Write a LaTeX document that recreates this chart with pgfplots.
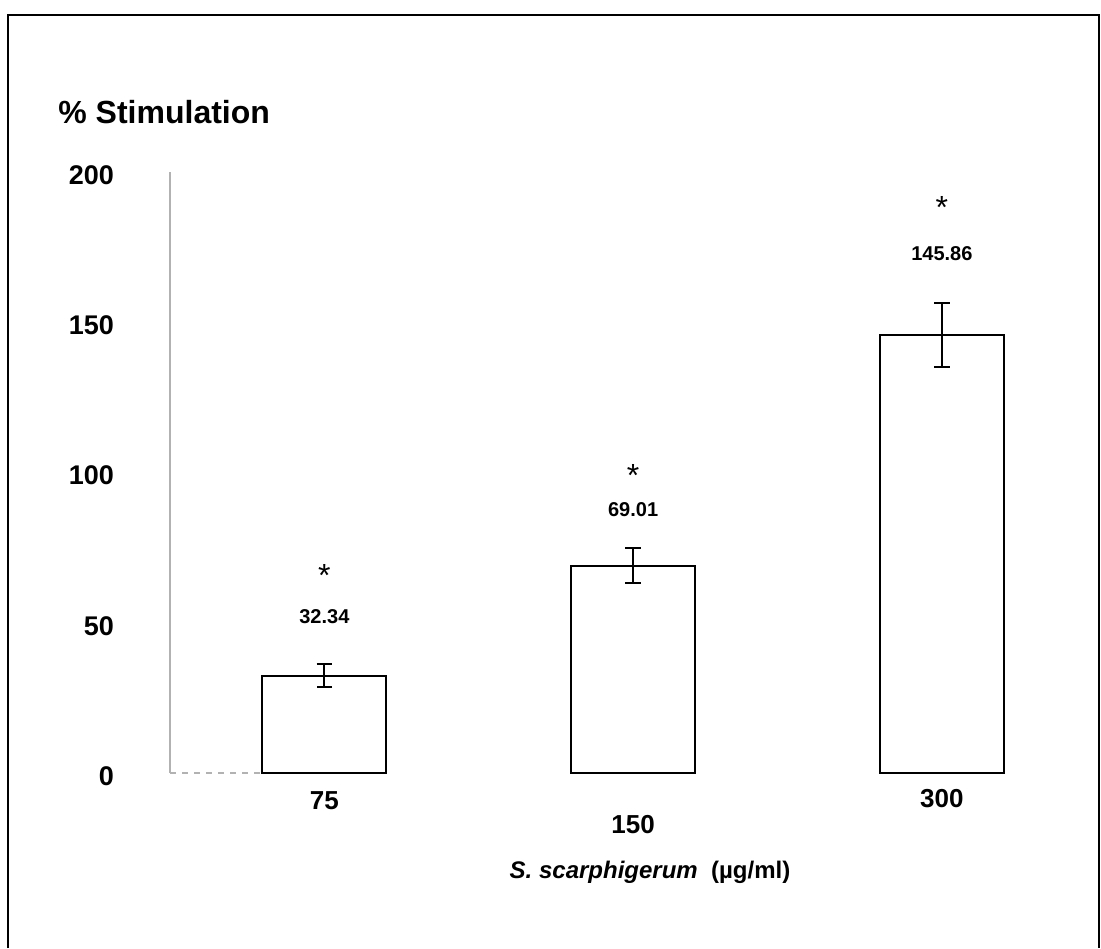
\documentclass[border=0pt]{standalone}
\usepackage{pgfplots}
\pgfplotsset{compat=1.18}
\usepackage{fontspec}
\setmainfont{Liberation Sans}

\begin{document}
\begin{tikzpicture}[x=0.5pt,y=0.5pt]
\useasboundingbox (0,0) rectangle (1101,948);
% outer frame (open at the bottom)
\draw[line width=1pt] (8,0) -- (8,933) -- (1099,933) -- (1099,0);

\begin{axis}[
  at={(85pt,87.5pt)}, anchor=south west,
  scale only axis, width=463.125pt, height=300.5pt,
  xmin=-0.5, xmax=2.5, ymin=0, ymax=200,
  axis line style={draw=none},
  tick style={draw=none},
  clip=false,
  /pgf/number format/assume math mode=true,
  ytick={0,50,100,150,200},
  yticklabel style={anchor=east, xshift=-24.5pt, yshift=-1.5pt,
    font=\bfseries\fontsize{13.5}{15}\selectfont},
  xtick={0,1,2},
  xticklabels={75,
    {\raisebox{-11.5pt}[\height][0pt]{150}},
    {\raisebox{1.5pt}[\height][0pt]{300}}},
  xticklabel style={yshift=-6pt, font=\bfseries\fontsize{13}{15}\selectfont},
]
% axis lines
\draw[gray!60, line width=0.6pt] (axis cs:-0.5,0) -- (axis cs:-0.5,200);
\draw[gray!60, line width=0.6pt, dashed] (axis cs:-0.5,0) -- (axis cs:-0.2,0);

\addplot[ybar, bar width=62pt, draw=black, line width=1pt, fill=white,
  error bars/.cd, y dir=both, y explicit,
  error bar style={line width=1pt},
  error mark options={line width=1pt, mark size=3.9pt, rotate=90}]
  coordinates {
    (0,32.34)  +- (0,3.8)
    (1,69.01)  +- (0,5.8)
    (2,145.86) +- (0,10.7)
  };

% mean values
\node[font=\bfseries\fontsize{10}{12}\selectfont] at (axis cs:0,52.2) {32.34};
\node[font=\bfseries\fontsize{10}{12}\selectfont] at (axis cs:1,87.5) {69.01};
\node[font=\bfseries\fontsize{10}{12}\selectfont] at (axis cs:2,173) {145.86};
% significance marks
\node[font=\fontsize{16}{18}\selectfont, anchor=north] at (axis cs:0,71.6) {*};
\node[font=\fontsize{16}{18}\selectfont, anchor=north] at (axis cs:1,105.1) {*};
\node[font=\fontsize{16}{18}\selectfont, anchor=north] at (axis cs:2,194.3) {*};
\end{axis}

\node[anchor=west, font=\bfseries\fontsize{16}{19}\selectfont, inner sep=0pt] at (58,836) {\% Stimulation};
\node[font=\bfseries\fontsize{12}{14}\selectfont] at (650,76) {\textit{S. scarphigerum}\ \ (µg/ml)};
\end{tikzpicture}
\end{document}
